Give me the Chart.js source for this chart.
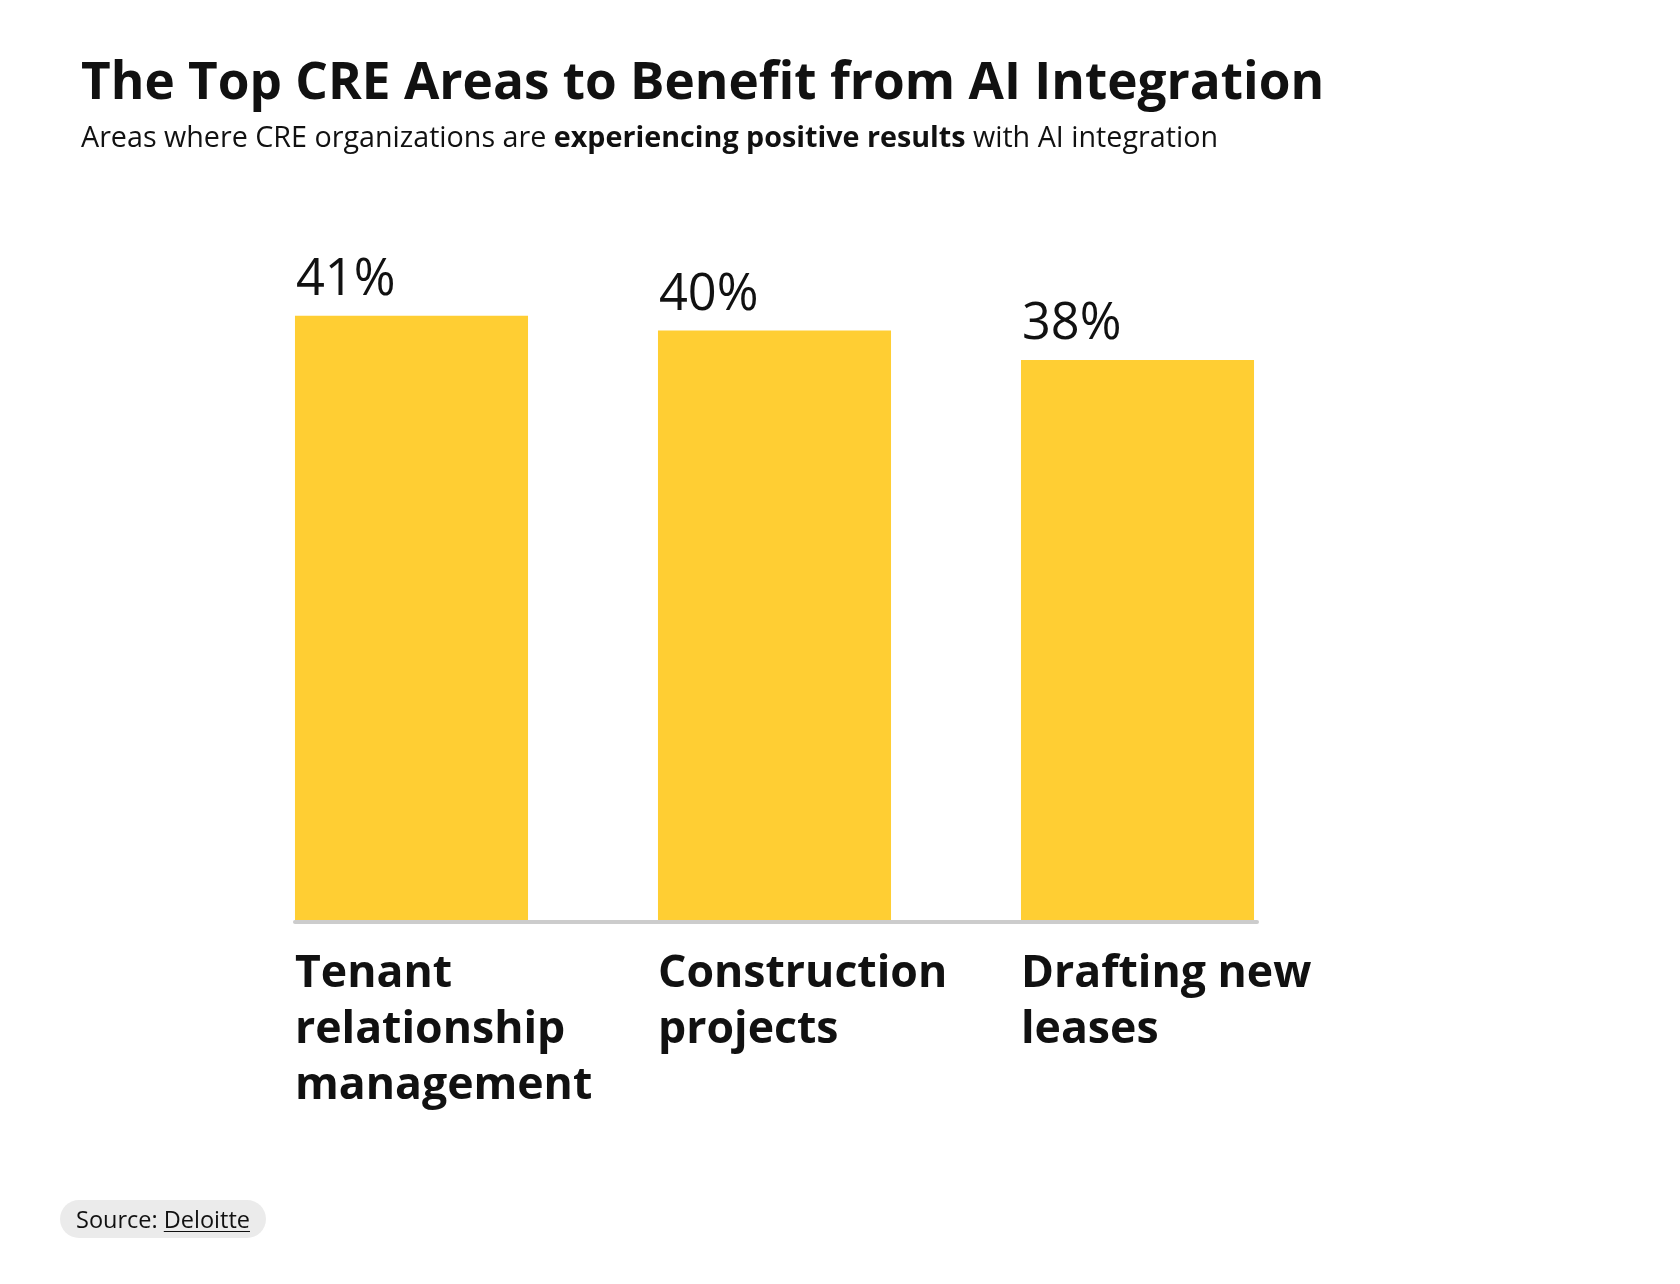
<!DOCTYPE html>
<html>
<head>
<meta charset="utf-8">
<script src="https://cdn.jsdelivr.net/npm/chart.js@4"></script>
<style>
  html, body { margin: 0; padding: 0; background: #ffffff; }
  body { width: 1680px; height: 1284px; position: relative; overflow: hidden; font-family: "Open Sans", sans-serif; color: #111111; }
  #title { position: absolute; left: 81px; top: 53px; font-size: 51.3px; line-height: 52px; font-weight: 700; white-space: nowrap; }
  #subtitle { position: absolute; left: 81px; top: 122px; font-size: 28.7px; line-height: 28.7px; font-weight: 400; white-space: nowrap; }
  #subtitle b { font-weight: 700; }
  #source { position: absolute; left: 60px; top: 1200px; height: 38px; line-height: 38px; padding: 0 16px; border-radius: 19px; background: #ebebeb; font-size: 23.5px; white-space: nowrap; }
  #source span { text-decoration: underline; text-underline-offset: 3px; text-decoration-thickness: 1px; }
  #wrap { position: absolute; left: 0; top: 0; width: 1680px; height: 1284px; }
</style>
</head>
<body>
<div id="wrap"><canvas id="c"></canvas></div>
<div id="title">The Top CRE Areas to Benefit from AI Integration</div>
<div id="subtitle">Areas where CRE organizations are <b>experiencing positive results</b> with AI integration</div>
<div id="source">Source: <span>Deloitte</span></div>
<script>
const categories = [
  ["Tenant", "relationship", "management"],
  ["Construction", "projects"],
  ["Drafting new", "leases"]
];
const values = [41, 40, 38];
const valueLabels = ["41%", "40%", "38%"];

const labelPlugin = {
  id: "labelPlugin",
  afterDatasetsDraw(chart) {
    const ctx = chart.ctx;
    const meta = chart.getDatasetMeta(0);
    const bars = meta.data;
    if (!bars.length) return;
    const first = bars[0], last = bars[bars.length - 1];
    const baseY = first.base;
    ctx.save();
    ctx.strokeStyle = "#cccccc";
    ctx.lineWidth = 4;
    ctx.lineCap = "round";
    ctx.beginPath();
    ctx.moveTo(first.x - first.width / 2, baseY + 1);
    ctx.lineTo(last.x + last.width / 2 + 3, baseY + 1);
    ctx.stroke();
    ctx.restore();

    ctx.save();
    ctx.fillStyle = "#111111";
    ctx.textAlign = "left";
    ctx.textBaseline = "alphabetic";
    bars.forEach((bar, i) => {
      const left = bar.x - bar.width / 2;
      ctx.font = '400 50.5px "Open Sans"';
      ctx.fillText(valueLabels[i], left + 1, bar.y - 21);
      ctx.font = '700 44.6px "Open Sans"';
      const lines = chart.data.labels[i];
      lines.forEach((ln, j) => {
        ctx.fillText(ln, left, baseY + 66 + j * 56);
      });
    });
    ctx.restore();
  }
};

new Chart(document.getElementById("c"), {
  type: "bar",
  data: {
    labels: categories,
    datasets: [{
      data: values,
      backgroundColor: "#FFCE33",
      borderWidth: 0,
      barPercentage: 0.642,
      categoryPercentage: 1.0
    }]
  },
  options: {
    responsive: true,
    maintainAspectRatio: false,
    animation: false,
    layout: { padding: { left: 230, right: 361, top: 183, bottom: 363 } },
    plugins: { legend: { display: false }, tooltip: { enabled: false }, title: { display: false } },
    scales: {
      x: { display: false, offset: true },
      y: { display: false, min: 0, max: 50 }
    }
  },
  plugins: [labelPlugin]
});
</script>
</body>
</html>
